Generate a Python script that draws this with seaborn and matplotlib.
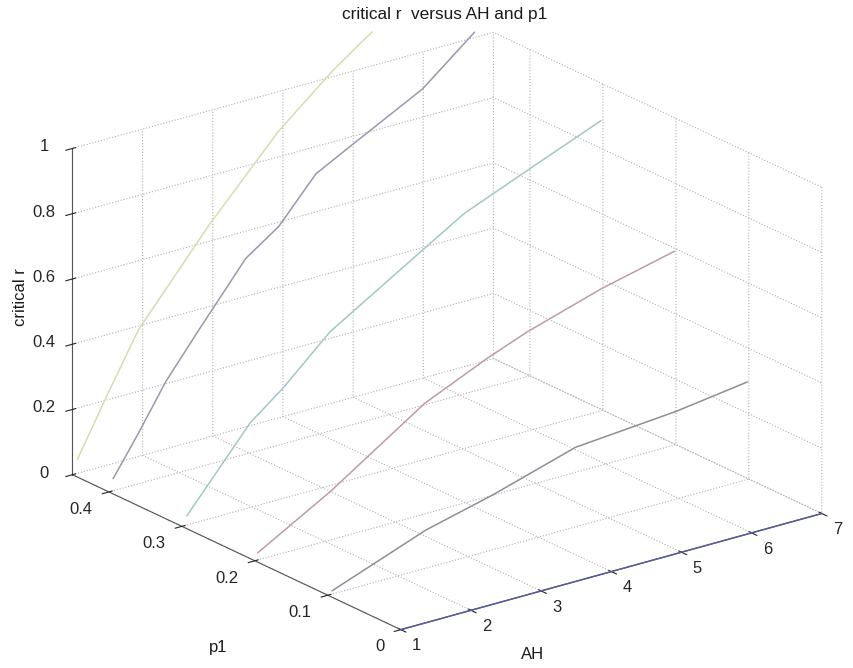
import numpy as np
import matplotlib
matplotlib.use('agg')
import seaborn as sns
import matplotlib.pyplot as plt

# critical r, one curve per p1 value
p1_values = [0.0, 0.1, 0.2, 0.3, 0.4, 0.45]
ah_p00 = [1.0, 7.0]
r_p00 = [0.0, 0.0]
ah_p01 = [1.06, 2.40, 3.35, 4.53, 5.96, 6.98]
r_p01 = [0.01, 0.117, 0.168, 0.244, 0.269, 0.299]
ah_p02 = [1.04, 2.08, 3.42, 4.32, 4.89, 5.94, 6.98]
r_p02 = [0.022, 0.149, 0.339, 0.425, 0.472, 0.541, 0.594]
ah_p03 = [1.07, 1.68, 1.97, 2.45, 3.11, 4.45, 5.02, 5.97, 6.97]
r_p03 = [0.028, 0.184, 0.259, 0.34, 0.471, 0.646, 0.72, 0.803, 0.889]
ah_p04 = [1.06, 1.43, 1.81, 2.28, 2.95, 3.42, 3.95, 4.48, 5.47, 6.21]
r_p04 = [0.037, 0.158, 0.29, 0.42, 0.60, 0.67, 0.80, 0.86, 0.97, 1.10]
ah_p045 = [1.07, 1.47, 1.94, 2.94, 3.93, 4.70, 5.27]
r_p045 = [0.042, 0.205, 0.388, 0.648, 0.877, 1.017, 1.104]

curves = [(ah_p00, r_p00), (ah_p01, r_p01), (ah_p02, r_p02),
          (ah_p03, r_p03), (ah_p04, r_p04), (ah_p045, r_p045)]
colors = ["#5a5aa0", "#8e8e98", "#bc9cac", "#a2c8c6", "#9a98b0", "#d8dcae"]

ah_ticks = [1, 2, 3, 4, 5, 6, 7]
p1_ticks = [0, 0.1, 0.2, 0.3, 0.4]
r_ticks = [0, 0.2, 0.4, 0.6, 0.8, 1]

sns.set_style("white")
plt.rcParams['font.family'] = ['Liberation Sans', 'DejaVu Sans']
plt.rcParams['font.size'] = 12
plt.rcParams['grid.linestyle'] = ':'
plt.rcParams['grid.color'] = '#b0b0b0'
plt.rcParams['grid.linewidth'] = 0.8

fig = plt.figure(figsize=(8.54, 6.68), dpi=100)
ax = fig.add_axes([0.013, -0.009, 1, 1], projection='3d')
ax.set_proj_type('ortho')
ax.view_init(elev=21.15, azim=-127.4)
ax.set_box_aspect((1, 1.02, 0.66), zoom=1.212)

for i, (ah, r) in enumerate(curves):
    ax.plot(ah, np.full(len(ah), p1_values[i]), r, color=colors[i], lw=1.1,
            clip_on=False)

ax.set_xlim(1, 7)
ax.set_ylim(0, 0.45)
ax.set_zlim(0, 1)
ax.set_xticks(ah_ticks)
ax.set_yticks(p1_ticks)
ax.set_zticks(r_ticks)
ax.set_xticklabels([str(t) for t in ah_ticks], ha='left', va='center')
ax.set_yticklabels(["0", "0.1", "0.2", "0.3", "0.4"], ha='right', va='center')
ax.set_zticklabels(["0", "0.2", "0.4", "0.6", "0.8", "1"], va='center')
ax.tick_params(axis='x', pad=0.5)
ax.tick_params(axis='y', pad=1.8)
ax.tick_params(axis='z', pad=1.5)

for axis in (ax.xaxis, ax.yaxis, ax.zaxis):
    axis.set_pane_color((1, 1, 1, 0))
    axis.pane.set_edgecolor((1, 1, 1, 0))
    axis.line.set_color('#555555')
    axis._axinfo['grid'].update(color='#b0b0b0', linestyle=':', linewidth=0.8)

fig.text(0.624, 0.0195, "AH", ha='center', va='center', color='.1')
fig.text(0.255, 0.031, "p1", ha='center', va='center', color='.1')
fig.text(0.024, 0.555, "critical r", ha='center', va='center', rotation=90,
         color='.1')
fig.text(0.521, 0.978, "critical r  versus AH and p1", ha='center',
         va='center', color='.1', fontsize=12.4)

fig.savefig("out.png", dpi=100)
